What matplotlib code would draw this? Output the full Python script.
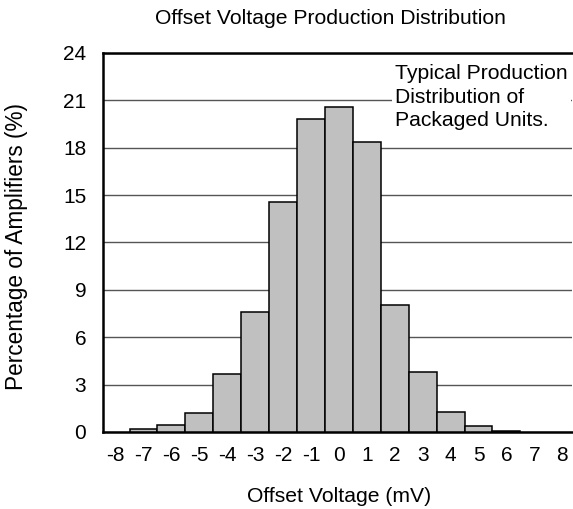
import numpy as np
import matplotlib.pyplot as plt

plt.rcParams['font.family'] = ['Liberation Sans', 'DejaVu Sans']
plt.rcParams['axes.unicode_minus'] = False

# offset voltage bins (mV) and percentage of amplifiers
offset_mv = [-7, -6, -5, -4, -3, -2, -1, 0, 1, 2, 3, 4, 5, 6]
percent = [0.18, 0.45, 1.2, 3.65, 7.6, 14.55, 19.8, 20.55, 18.35, 8.05, 3.8, 1.27, 0.38, 0.08]
x_ticks = list(range(-8, 9))
y_ticks = [0, 3, 6, 9, 12, 15, 18, 21, 24]

fig = plt.figure(figsize=(5.73, 5.09), dpi=100)
ax = fig.add_axes([0.1798, 0.1513, 0.8185, 0.7446])

ax.bar(offset_mv, percent, width=1.0, color='#c0c0c0', edgecolor='black',
       linewidth=1.1, zorder=3)

ax.set_xlim(-8.45, 8.35)
ax.set_ylim(0, 24)
ax.set_xticks(x_ticks)
ax.set_yticks(y_ticks)
ax.tick_params(length=0, labelsize=15)
ax.tick_params(axis='x', pad=10)
ax.tick_params(axis='y', pad=12)

ax.grid(axis='y', color='#555555', linewidth=1.0, zorder=1)
ax.set_axisbelow(True)

for side in ['left', 'bottom', 'top']:
    ax.spines[side].set_linewidth(1.8)
ax.spines['right'].set_visible(False)

ax.text(2.0, 23.3, 'Typical Production\nDistribution of\nPackaged Units.',
        fontsize=15.2, va='top', ha='left', linespacing=1.3, zorder=5,
        bbox=dict(boxstyle='square,pad=0.15', facecolor='white', edgecolor='none'))

fig.text(330 / 573, 1 - 19 / 509, 'Offset Voltage Production Distribution',
         fontsize=15.2, ha='center', va='center')
fig.text(339 / 573, 1 - 497 / 509, 'Offset Voltage (mV)',
         fontsize=15.2, ha='center', va='center')
fig.text(17 / 573, 1 - 246 / 509, 'Percentage of Amplifiers (%)',
         fontsize=16.3, ha='center', va='center', rotation=90)

fig.savefig('out.png', dpi=100)
